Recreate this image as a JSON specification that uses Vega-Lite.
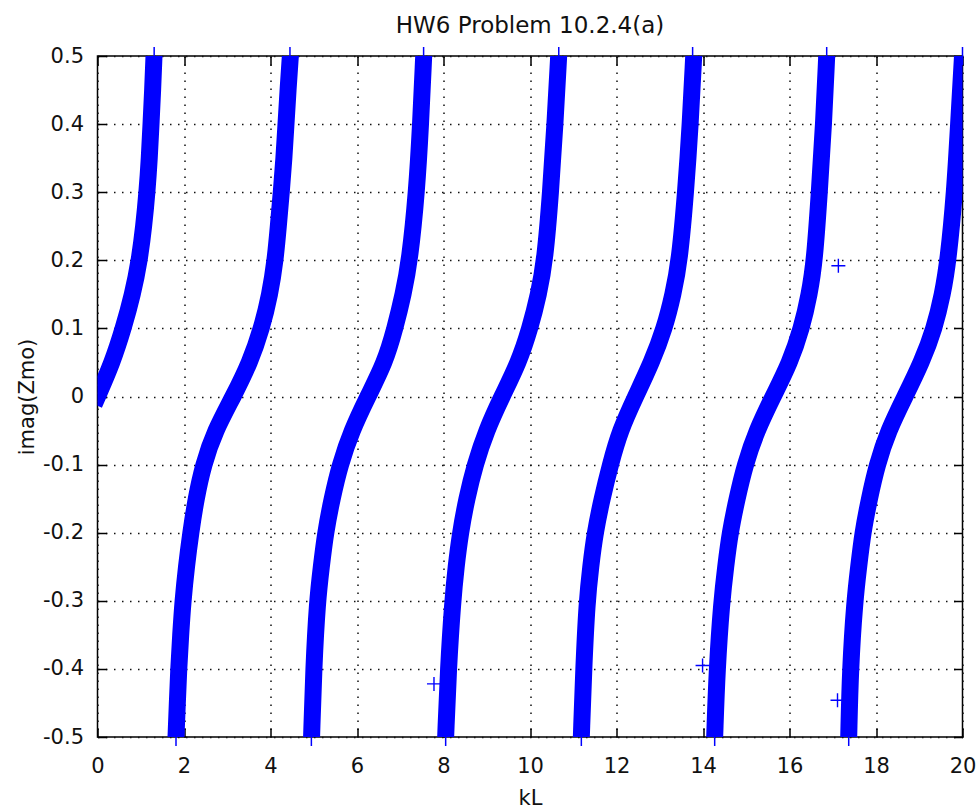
{
  "$schema": "https://vega.github.io/schema/vega-lite/v6.json",
  "width": 865,
  "height": 681,
  "autosize": {"type": "none"},
  "padding": {"left": 97.5, "top": 56, "right": 14.5, "bottom": 75},
  "background": "white",
  "config": {"view": {"stroke": "black", "strokeWidth": 1.5}, "font": "DejaVu Sans"},
  "title": {"text": "HW6 Problem 10.2.4(a)", "font": "DejaVu Sans", "fontSize": 23, "fontWeight": "normal", "color": "#111", "frame": "group", "anchor": "middle", "baseline": "alphabetic", "offset": 22, "dy": 34},
  "datasets": {
    "curve": [
      {"b":0,"kL":0,"Z":0},{"b":0,"kL":0.343,"Z":0.05},{"b":0,"kL":0.597,"Z":0.1},{"b":0,"kL":0.813,"Z":0.15},{"b":0,"kL":0.97,"Z":0.2},{"b":0,"kL":1.07,"Z":0.25},{"b":0,"kL":1.145,"Z":0.3},{"b":0,"kL":1.199,"Z":0.35},{"b":0,"kL":1.237,"Z":0.4},{"b":0,"kL":1.276,"Z":0.45},{"b":0,"kL":1.306,"Z":0.5},
      {"b":1,"kL":1.815,"Z":-0.5},{"b":1,"kL":1.846,"Z":-0.45},{"b":1,"kL":1.877,"Z":-0.4},{"b":1,"kL":1.923,"Z":-0.35},{"b":1,"kL":1.975,"Z":-0.3},{"b":1,"kL":2.055,"Z":-0.25},{"b":1,"kL":2.155,"Z":-0.2},{"b":1,"kL":2.277,"Z":-0.15},{"b":1,"kL":2.446,"Z":-0.1},{"b":1,"kL":2.717,"Z":-0.05},{"b":1,"kL":3.14,"Z":0},{"b":1,"kL":3.526,"Z":0.05},{"b":1,"kL":3.796,"Z":0.1},{"b":1,"kL":3.988,"Z":0.15},{"b":1,"kL":4.11,"Z":0.2},{"b":1,"kL":4.181,"Z":0.25},{"b":1,"kL":4.25,"Z":0.3},{"b":1,"kL":4.312,"Z":0.35},{"b":1,"kL":4.358,"Z":0.4},{"b":1,"kL":4.405,"Z":0.45},{"b":1,"kL":4.459,"Z":0.5},
      {"b":2,"kL":4.95,"Z":-0.5},{"b":2,"kL":4.998,"Z":-0.4},{"b":2,"kL":5.083,"Z":-0.3},{"b":2,"kL":5.175,"Z":-0.25},{"b":2,"kL":5.27,"Z":-0.2},{"b":2,"kL":5.422,"Z":-0.15},{"b":2,"kL":5.607,"Z":-0.1},{"b":2,"kL":5.877,"Z":-0.05},{"b":2,"kL":6.25,"Z":0},{"b":2,"kL":6.647,"Z":0.05},{"b":2,"kL":6.879,"Z":0.1},{"b":2,"kL":7.07,"Z":0.15},{"b":2,"kL":7.22,"Z":0.2},{"b":2,"kL":7.38,"Z":0.3},{"b":2,"kL":7.472,"Z":0.4},{"b":2,"kL":7.542,"Z":0.5},
      {"b":3,"kL":8.05,"Z":-0.5},{"b":3,"kL":8.111,"Z":-0.4},{"b":3,"kL":8.213,"Z":-0.3},{"b":3,"kL":8.29,"Z":-0.25},{"b":3,"kL":8.39,"Z":-0.2},{"b":3,"kL":8.536,"Z":-0.15},{"b":3,"kL":8.728,"Z":-0.1},{"b":3,"kL":8.99,"Z":-0.05},{"b":3,"kL":9.35,"Z":0},{"b":3,"kL":9.74,"Z":0.05},{"b":3,"kL":10.0,"Z":0.1},{"b":3,"kL":10.2,"Z":0.15},{"b":3,"kL":10.347,"Z":0.2},{"b":3,"kL":10.478,"Z":0.3},{"b":3,"kL":10.578,"Z":0.4},{"b":3,"kL":10.663,"Z":0.5},
      {"b":4,"kL":11.187,"Z":-0.5},{"b":4,"kL":11.241,"Z":-0.4},{"b":4,"kL":11.318,"Z":-0.3},{"b":4,"kL":11.403,"Z":-0.25},{"b":4,"kL":11.503,"Z":-0.2},{"b":4,"kL":11.665,"Z":-0.15},{"b":4,"kL":11.857,"Z":-0.1},{"b":4,"kL":12.08,"Z":-0.05},{"b":4,"kL":12.44,"Z":0},{"b":4,"kL":12.813,"Z":0.05},{"b":4,"kL":13.11,"Z":0.1},{"b":4,"kL":13.31,"Z":0.15},{"b":4,"kL":13.46,"Z":0.2},{"b":4,"kL":13.6,"Z":0.3},{"b":4,"kL":13.707,"Z":0.4},{"b":4,"kL":13.785,"Z":0.5},
      {"b":5,"kL":14.27,"Z":-0.5},{"b":5,"kL":14.324,"Z":-0.4},{"b":5,"kL":14.432,"Z":-0.3},{"b":5,"kL":14.524,"Z":-0.25},{"b":5,"kL":14.624,"Z":-0.2},{"b":5,"kL":14.786,"Z":-0.15},{"b":5,"kL":14.971,"Z":-0.1},{"b":5,"kL":15.24,"Z":-0.05},{"b":5,"kL":15.62,"Z":0},{"b":5,"kL":16.012,"Z":0.05},{"b":5,"kL":16.28,"Z":0.1},{"b":5,"kL":16.46,"Z":0.15},{"b":5,"kL":16.582,"Z":0.2},{"b":5,"kL":16.69,"Z":0.3},{"b":5,"kL":16.79,"Z":0.4},{"b":5,"kL":16.86,"Z":0.5},
      {"b":6,"kL":17.369,"Z":-0.5},{"b":6,"kL":17.406,"Z":-0.4},{"b":6,"kL":17.507,"Z":-0.3},{"b":6,"kL":17.6,"Z":-0.25},{"b":6,"kL":17.692,"Z":-0.2},{"b":6,"kL":17.846,"Z":-0.15},{"b":6,"kL":18.023,"Z":-0.1},{"b":6,"kL":18.285,"Z":-0.05},{"b":6,"kL":18.67,"Z":0},{"b":6,"kL":19.056,"Z":0.05},{"b":6,"kL":19.35,"Z":0.1},{"b":6,"kL":19.54,"Z":0.15},{"b":6,"kL":19.67,"Z":0.2},{"b":6,"kL":19.82,"Z":0.3},{"b":6,"kL":19.91,"Z":0.4},{"b":6,"kL":20.0,"Z":0.5}
    ],
    "edge": [
      {"kL":1.31,"Z":0.5},{"kL":4.45,"Z":0.5},{"kL":7.54,"Z":0.5},{"kL":10.665,"Z":0.5},{"kL":13.76,"Z":0.5},{"kL":16.86,"Z":0.5},{"kL":20.0,"Z":0.5},
      {"kL":1.815,"Z":-0.5},{"kL":4.945,"Z":-0.5},{"kL":8.05,"Z":-0.5},{"kL":11.187,"Z":-0.5},{"kL":14.27,"Z":-0.5},{"kL":17.369,"Z":-0.5}
    ],
    "stray": [
      {"kL":7.78,"Z":-0.422},{"kL":13.99,"Z":-0.395},{"kL":17.11,"Z":-0.446},{"kL":17.13,"Z":0.192}
    ]
  },
  "layer": [
    {
      "data": {"name": "edge"},
      "mark": {"type": "point", "shape": "M0,-1L0,1", "size": 324, "filled": false, "stroke": "#0000ff", "strokeWidth": 1.5, "opacity": 1, "clip": false},
      "encoding": {
        "x": {"field": "kL", "type": "quantitative", "scale": {"domain": [0, 20], "nice": false, "zero": false},
          "axis": {"orient": "top", "values": [0,2,4,6,8,10,12,14,16,18,20], "labels": false, "title": null, "grid": false, "domain": false, "ticks": true, "tickSize": -9, "tickColor": "black", "tickWidth": 1.5}},
        "y": {"field": "Z", "type": "quantitative", "scale": {"domain": [-0.5, 0.5], "nice": false, "zero": false},
          "axis": {"orient": "right", "values": [-0.5,-0.4,-0.3,-0.2,-0.1,0,0.1,0.2,0.3,0.4,0.5], "labels": false, "title": null, "grid": false, "domain": false, "ticks": true, "tickSize": -9, "tickColor": "black", "tickWidth": 1.5}}
      }
    },
    {
      "data": {"name": "curve"},
      "mark": {"type": "line", "color": "#0000ff", "strokeWidth": 17, "strokeCap": "square", "interpolate": "basis", "clip": true},
      "encoding": {
        "x": {"field": "kL", "type": "quantitative",
          "axis": {"orient": "bottom", "values": [0,2,4,6,8,10,12,14,16,18,20], "grid": true, "gridDash": [1.5, 6.5], "gridColor": "#111", "gridWidth": 1.5, "domain": false, "ticks": true, "tickSize": -9, "tickColor": "black", "tickWidth": 1.5, "labelFlush": false, "labelOverlap": false, "labelFont": "DejaVu Sans", "labelFontSize": 21, "labelColor": "#111", "labelPadding": 27, "title": "kL", "titleFont": "DejaVu Sans", "titleFontSize": 21, "titleFontWeight": "normal", "titleColor": "#111", "titleY": 67, "titleBaseline": "alphabetic"}},
        "y": {"field": "Z", "type": "quantitative",
          "axis": {"orient": "left", "values": [-0.5,-0.4,-0.3,-0.2,-0.1,0,0.1,0.2,0.3,0.4,0.5], "labelExpr": "datum.value == 0 ? '0' : replace(format(datum.value, '.1f'), '\u2212', '-')", "grid": true, "gridDash": [1.5, 6.5], "gridColor": "#111", "gridWidth": 1.5, "domain": false, "ticks": true, "tickSize": -9, "tickColor": "black", "tickWidth": 1.5, "labelOverlap": false, "labelFont": "DejaVu Sans", "labelFontSize": 21, "labelColor": "#111", "labelPadding": 23, "title": "imag(Zmo)", "titleFont": "DejaVu Sans", "titleFontSize": 21, "titleFontWeight": "normal", "titleColor": "#111", "titleX": -70, "titleBaseline": "middle"}},
        "detail": {"field": "b", "type": "nominal"}
      }
    },
    {
      "data": {"name": "stray"},
      "mark": {"type": "point", "shape": "M-1,0L1,0M0,-1L0,1", "size": 196, "filled": false, "stroke": "#0000ff", "strokeWidth": 1.4, "opacity": 1},
      "encoding": {
        "x": {"field": "kL", "type": "quantitative", "axis": null},
        "y": {"field": "Z", "type": "quantitative", "axis": null}
      }
    }
  ],
  "resolve": {"axis": {"x": "independent", "y": "independent"}}
}
